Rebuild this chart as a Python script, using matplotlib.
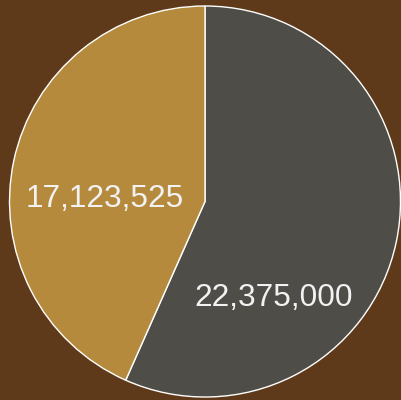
import matplotlib
matplotlib.use('Agg')
import matplotlib.pyplot as plt

# slice values, clockwise from 12 o'clock
values = [22375000, 17123525]
labels = ['22,375,000', '17,123,525']
colors = ['#4e4d48', '#b58a3c']

plt.rcParams['font.family'] = ['Liberation Sans', 'DejaVu Sans']

fig = plt.figure(figsize=(4.01, 4.00), dpi=100)
fig.patch.set_facecolor('#5f3a1a')
ax = fig.add_axes([0, 0, 1, 1])
ax.set_facecolor('#5f3a1a')

wedges, _ = ax.pie(values, colors=colors, startangle=90, counterclock=False,
                   radius=1.0, wedgeprops=dict(edgecolor='white', linewidth=1.0))

# label spots, in pie radius units
label_pos = [(0.353, -0.535), (-0.514, -0.028)]
for (x, y), txt in zip(label_pos, labels):
    ax.text(x, y, txt, ha='center', va='baseline', color='#f2f2f2', fontsize=22.8)

ax.set_xlim(-1.0486, 1.0026)
ax.set_ylim(-1.0153, 1.0307)
ax.set_aspect('auto')
ax.axis('off')

fig.savefig('out.png', dpi=100, facecolor=fig.get_facecolor())
